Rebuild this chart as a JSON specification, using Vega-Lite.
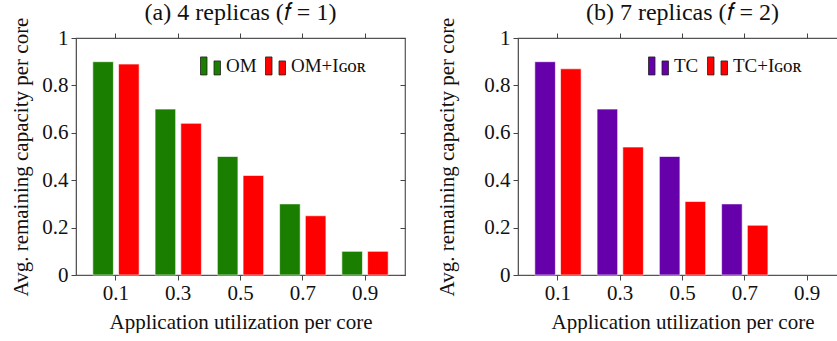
{
  "$schema": "https://vega.github.io/schema/vega-lite/v6.json",
  "padding": {"left": 10, "top": 0, "right": 0, "bottom": 0},
  "spacing": 29,
  "background": "white",
  "config": {
    "font": "Liberation Serif",
    "view": {"stroke": "#555", "strokeWidth": 1.2},
    "axis": {
      "labelFont": "Liberation Serif", "labelFontSize": 21, "labelColor": "#111",
      "titleFont": "Liberation Serif", "titleFontSize": 21, "titleFontWeight": "normal", "titleColor": "#111",
      "tickColor": "#444", "domainColor": "#555", "grid": false, "tickSize": 5
    },
    "title": {"font": "Liberation Serif", "fontSize": 24, "fontWeight": "normal", "color": "#111", "offset": -8},
    "legend": {"labelFont": "Liberation Serif", "labelFontSize": 19, "labelColor": "#111"}
  },
  "datasets": {
    "a": [
      {"util": "0.1", "series": "OM", "value": 0.9},
      {"util": "0.3", "series": "OM", "value": 0.7},
      {"util": "0.5", "series": "OM", "value": 0.5},
      {"util": "0.7", "series": "OM", "value": 0.3},
      {"util": "0.9", "series": "OM", "value": 0.1},
      {"util": "0.1", "series": "OM+Iɢᴏʀ", "value": 0.89},
      {"util": "0.3", "series": "OM+Iɢᴏʀ", "value": 0.64},
      {"util": "0.5", "series": "OM+Iɢᴏʀ", "value": 0.42},
      {"util": "0.7", "series": "OM+Iɢᴏʀ", "value": 0.25},
      {"util": "0.9", "series": "OM+Iɢᴏʀ", "value": 0.1}
    ],
    "b": [
      {"util": "0.1", "series": "TC", "value": 0.9},
      {"util": "0.3", "series": "TC", "value": 0.7},
      {"util": "0.5", "series": "TC", "value": 0.5},
      {"util": "0.7", "series": "TC", "value": 0.3},
      {"util": "0.1", "series": "TC+Iɢᴏʀ", "value": 0.87},
      {"util": "0.3", "series": "TC+Iɢᴏʀ", "value": 0.54},
      {"util": "0.5", "series": "TC+Iɢᴏʀ", "value": 0.31},
      {"util": "0.7", "series": "TC+Iɢᴏʀ", "value": 0.21}
    ]
  },
  "resolve": {"scale": {"color": "independent", "xOffset": "independent"}, "legend": {"color": "independent"}},
  "hconcat": [
    {
      "title": "(a) 4 replicas (𝑓 = 1)",
      "width": 329, "height": 237,
      "data": {"name": "a"},
      "resolve": {"axis": {"x": "independent", "y": "independent"}},
      "layer": [
        {
          "mark": {"type": "bar", "stroke": "#ffffff", "strokeOpacity": 0.6, "strokeWidth": 1},
          "encoding": {
            "x": {"field": "util", "type": "ordinal", "scale": {"domain": ["0.1", "0.3", "0.5", "0.7", "0.9"], "paddingInner": 0.256, "paddingOuter": 0.27},
                  "axis": {"title": "Application utilization per core", "labelAngle": 0, "labelPadding": 2, "titlePadding": 8}},
            "xOffset": {"field": "series", "type": "nominal", "scale": {"domain": ["OM", "OM+Iɢᴏʀ"], "paddingInner": 0.2, "paddingOuter": 0}},
            "y": {"field": "value", "type": "quantitative", "scale": {"domain": [0, 1], "nice": false},
                  "axis": {"title": "Avg. remaining capacity per core", "values": [0, 0.2, 0.4, 0.6, 0.8, 1], "format": "~g", "labelPadding": 3, "titlePadding": 10}},
            "color": {"field": "series", "type": "nominal",
                      "scale": {"domain": ["OM", "OM+Iɢᴏʀ"], "range": ["#1a7e00", "#ff0000"]},
                      "legend": {"title": null, "orient": "none", "legendX": 124, "legendY": 17, "direction": "horizontal",
                                 "symbolType": "M-1,-0.9H-0.35V0.9H-1Z M0.35,-0.5H1V0.9H0.35Z", "symbolSize": 400,
                                 "symbolStrokeColor": "#222", "symbolStrokeWidth": 0.8, "symbolOpacity": 1,
                                 "labelOffset": 5, "columnPadding": 6, "padding": 0}}
          }
        },
        {
          "mark": {"type": "bar", "opacity": 0},
          "encoding": {
            "x": {"field": "util", "type": "ordinal",
                  "axis": {"orient": "top", "title": null, "labels": false, "domain": false}},
            "xOffset": {"field": "series", "type": "nominal"},
            "y": {"field": "value", "type": "quantitative",
                  "axis": {"orient": "right", "title": null, "labels": false, "domain": false, "values": [0, 0.2, 0.4, 0.6, 0.8, 1], "tickSize": -5}}
          }
        }
      ]
    },
    {
      "title": "(b) 7 replicas (𝑓 = 2)",
      "width": 329, "height": 237,
      "data": {"name": "b"},
      "resolve": {"axis": {"x": "independent", "y": "independent"}},
      "layer": [
        {
          "mark": {"type": "bar", "stroke": "#ffffff", "strokeOpacity": 0.6, "strokeWidth": 1},
          "encoding": {
            "x": {"field": "util", "type": "ordinal", "scale": {"domain": ["0.1", "0.3", "0.5", "0.7", "0.9"], "paddingInner": 0.256, "paddingOuter": 0.27},
                  "axis": {"title": "Application utilization per core", "labelAngle": 0, "labelPadding": 2, "titlePadding": 8}},
            "xOffset": {"field": "series", "type": "nominal", "scale": {"domain": ["TC", "TC+Iɢᴏʀ"], "paddingInner": 0.2, "paddingOuter": 0}},
            "y": {"field": "value", "type": "quantitative", "scale": {"domain": [0, 1], "nice": false},
                  "axis": {"title": "Avg. remaining capacity per core", "values": [0, 0.2, 0.4, 0.6, 0.8, 1], "format": "~g", "labelPadding": 3, "titlePadding": 26}},
            "color": {"field": "series", "type": "nominal",
                      "scale": {"domain": ["TC", "TC+Iɢᴏʀ"], "range": ["#6600aa", "#ff0000"]},
                      "legend": {"title": null, "orient": "none", "legendX": 130, "legendY": 17, "direction": "horizontal",
                                 "symbolType": "M-1,-0.9H-0.35V0.9H-1Z M0.35,-0.5H1V0.9H0.35Z", "symbolSize": 400,
                                 "symbolStrokeColor": "#222", "symbolStrokeWidth": 0.8, "symbolOpacity": 1,
                                 "labelOffset": 5, "columnPadding": 6, "padding": 0}}
          }
        },
        {
          "mark": {"type": "bar", "opacity": 0},
          "encoding": {
            "x": {"field": "util", "type": "ordinal",
                  "axis": {"orient": "top", "title": null, "labels": false, "domain": false}},
            "xOffset": {"field": "series", "type": "nominal"},
            "y": {"field": "value", "type": "quantitative",
                  "axis": {"orient": "right", "title": null, "labels": false, "domain": false, "values": [0, 0.2, 0.4, 0.6, 0.8, 1], "tickSize": -5}}
          }
        }
      ]
    }
  ]
}
